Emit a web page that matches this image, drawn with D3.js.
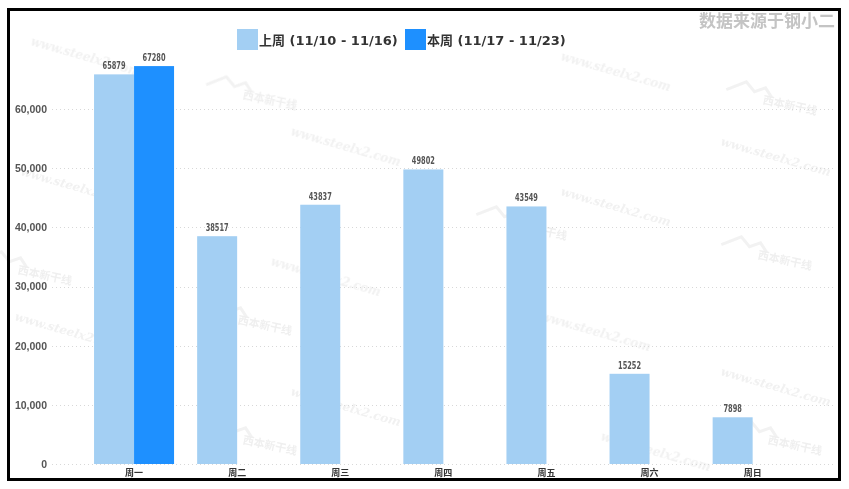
<!DOCTYPE html>
<html>
<head>
<meta charset="utf-8">
<script src="https://cdn.jsdelivr.net/npm/d3@7"></script>
<style>
  body { margin: 0; background: #fff; }
  svg { display: block; }
</style>
</head>
<body>
<svg id="chart" width="849" height="489"></svg>
<script>
'use strict';

var days = ["周一", "周二", "周三", "周四", "周五", "周六", "周日"];
var lastWeek = [65879, 38517, 43837, 49802, 43549, 15252, 7898];
var thisWeek = [67280, null, null, null, null, null, null];
var seriesNames = ["上周 (11/10 - 11/16)", "本周 (11/17 - 11/23)"];
var seriesColors = ["#a3cff3", "#1e90ff"];
var yTicks = [0, 10000, 20000, 30000, 40000, 50000, 60000];

var svg = d3.select('#chart');

// watermark, kept faint
var wm = svg.append('g').attr('opacity', 0.55);
var wmSpots = [[30, 45], [290, 135], [560, 60], [560, 195], [270, 265], [540, 320], [290, 395], [20, 175], [14, 320], [600, 440], [720, 145], [720, 375]];
wmSpots.forEach(function (p) {
	wm.append('text')
		.attr('transform', 'translate(' + p[0] + ',' + p[1] + ') rotate(16)')
		.attr('font-family', 'DejaVu Serif')
		.attr('font-style', 'italic')
		.attr('font-weight', 'bold')
		.attr('font-size', 12)
		.attr('fill', '#e6e6e6')
		.text('www.steelx2.com');
});
var logoSpots = [[245, 95], [765, 100], [515, 225], [240, 320], [760, 255], [770, 440], [245, 440], [20, 270]];
logoSpots.forEach(function (p) {
	var g = wm.append('g').attr('transform', 'translate(' + p[0] + ',' + p[1] + ') rotate(12)');
	g.append('path')
		.attr('d', 'M-40,-2 L-22,-14 L-12,-6 L-2,-12 L6,-4')
		.attr('fill', 'none').attr('stroke', '#e8e8e8').attr('stroke-width', 3);
	g.append('text')
		.attr('x', -2).attr('y', 4)
		.attr('font-family', 'Noto Sans CJK SC')
		.attr('font-weight', 'bold')
		.attr('font-size', 11)
		.attr('fill', '#e2e2e2')
		.text('西本新干线');
});

// frame
svg.append('rect')
	.attr('x', 8.5).attr('y', 9.5)
	.attr('width', 831).attr('height', 470)
	.attr('fill', 'none').attr('stroke', '#000').attr('stroke-width', 3);

// title
svg.append('text')
	.attr('x', 835).attr('y', 27)
	.attr('text-anchor', 'end')
	.attr('font-family', 'Noto Sans CJK SC')
	.attr('font-weight', 'bold')
	.attr('font-size', 17)
	.attr('fill', '#c4c4c4')
	.text('数据来源于钢小二');

var x = d3.scaleBand().domain(days).range([82.5, 804.2]).paddingInner(0.224).paddingOuter(0.112);
var x1 = d3.scaleBand().domain([0, 1]).range([0, x.bandwidth()]);
var y = d3.scaleLinear().domain([0, 70000]).range([464, 50]);

// grid
svg.append('g').selectAll('line').data(yTicks).join('line')
	.attr('x1', 52).attr('x2', 836)
	.attr('y1', function (d) { return Math.round(y(d)) + 0.5; })
	.attr('y2', function (d) { return Math.round(y(d)) + 0.5; })
	.attr('stroke', '#d8d8d8').attr('stroke-dasharray', '1,3');

// y axis labels
var yAxis = svg.append('g')
	.attr('transform', 'translate(47,0)')
	.call(d3.axisLeft(y).tickValues(yTicks).tickSize(0).tickPadding(0).tickFormat(d3.format(',')));
yAxis.select('.domain').remove();
yAxis.selectAll('text')
	.attr('font-family', 'Liberation Sans')
	.attr('font-weight', 'bold')
	.attr('font-size', 10.5)
	.attr('fill', '#555');

// x axis labels
var xAxis = svg.append('g')
	.attr('transform', 'translate(0,466)')
	.call(d3.axisBottom(x).tickSize(0).tickPadding(4));
xAxis.select('.domain').remove();
xAxis.selectAll('text')
	.attr('font-family', 'Noto Sans CJK SC')
	.attr('font-weight', 'bold')
	.attr('font-size', 9)
	.attr('fill', '#333');

var series = [lastWeek, thisWeek];
series.forEach(function (vals, si) {
	var rows = days.map(function (d, i) { return { day: d, v: vals[i] }; })
		.filter(function (r) { return r.v != null; });
	var g = svg.append('g');
	g.selectAll('rect').data(rows).join('rect')
		.attr('x', function (r) { return x(r.day) + x1(si); })
		.attr('width', x1.bandwidth())
		.attr('y', function (r) { return y(r.v); })
		.attr('height', function (r) { return y(0) - y(r.v); })
		.attr('fill', seriesColors[si]);
	// narrow bold numbers: condensed face squeezed horizontally
	g.selectAll('text').data(rows).join('text')
		.attr('transform', function (r) {
			return 'translate(' + (x(r.day) + x1(si) + x1.bandwidth() / 2) + ',' + (y(r.v) - 5) + ') scale(0.7,1)';
		})
		.attr('text-anchor', 'middle')
		.attr('font-family', 'DejaVu Sans Condensed')
		.attr('font-weight', 'bold')
		.attr('font-size', 10.5)
		.attr('fill', '#555')
		.text(function (r) { return r.v; });
});

// legend
var legendX = [237, 405];
var lg = svg.append('g');
seriesNames.forEach(function (name, i) {
	lg.append('rect')
		.attr('x', legendX[i]).attr('y', 29)
		.attr('width', 21).attr('height', 21)
		.attr('fill', seriesColors[i]);
	lg.append('text')
		.attr('x', legendX[i] + 22).attr('y', 44.5)
		.attr('font-family', 'DejaVu Sans, Noto Sans CJK SC')
		.attr('font-weight', 'bold')
		.attr('font-size', 13)
		.attr('fill', '#333')
		.text(name);
});
</script>
</body>
</html>
